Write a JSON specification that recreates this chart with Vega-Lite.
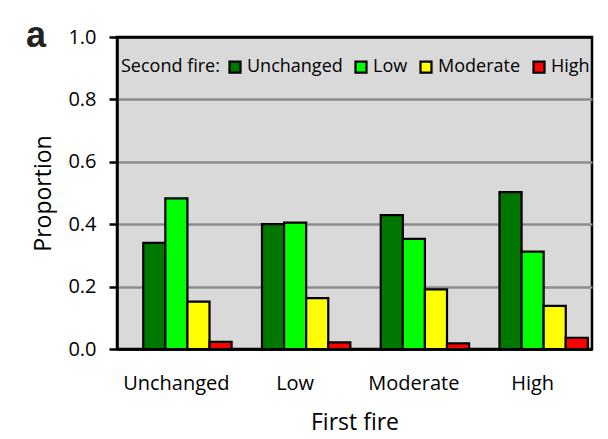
{
  "$schema": "https://vega.github.io/schema/vega-lite/v6.json",
  "autosize": "none",
  "padding": {"left": 117, "top": 37, "right": 16, "bottom": 90},
  "width": 475,
  "height": 312,
  "background": "white",
  "title": {
    "text": "a",
    "anchor": "start",
    "frame": "group",
    "font": "Liberation Sans",
    "fontSize": 36,
    "fontWeight": "bold",
    "color": "#222",
    "baseline": "alphabetic",
    "offset": -56,
    "dx": -91
  },
  "data": {
    "values": [
      {"first": "Unchanged", "second": "Unchanged", "value": 0.340},
      {"first": "Unchanged", "second": "Low", "value": 0.483},
      {"first": "Unchanged", "second": "Moderate", "value": 0.152},
      {"first": "Unchanged", "second": "High", "value": 0.023},
      {"first": "Low", "second": "Unchanged", "value": 0.400},
      {"first": "Low", "second": "Low", "value": 0.405},
      {"first": "Low", "second": "Moderate", "value": 0.163},
      {"first": "Low", "second": "High", "value": 0.021},
      {"first": "Moderate", "second": "Unchanged", "value": 0.429},
      {"first": "Moderate", "second": "Low", "value": 0.353},
      {"first": "Moderate", "second": "Moderate", "value": 0.191},
      {"first": "Moderate", "second": "High", "value": 0.018},
      {"first": "High", "second": "Unchanged", "value": 0.503},
      {"first": "High", "second": "Low", "value": 0.312},
      {"first": "High", "second": "Moderate", "value": 0.138},
      {"first": "High", "second": "High", "value": 0.036}
    ]
  },
  "mark": {"type": "bar", "stroke": "black", "strokeWidth": 2.2},
  "encoding": {
    "x": {
      "field": "first",
      "type": "nominal",
      "sort": ["Unchanged", "Low", "Moderate", "High"],
      "scale": {"paddingInner": 0.07, "paddingOuter": 0.035},
      "axis": {
        "title": "First fire",
        "labelAngle": 0,
        "ticks": false,
        "tickSize": 0,
        "labelPadding": 24,
        "labelFontSize": 20,
        "labelColor": "black",
        "titleFontSize": 23,
        "titleFontWeight": "normal",
        "titleColor": "black",
        "titlePadding": 18,
        "domainColor": "black",
        "domainWidth": 2.5
      }
    },
    "xOffset": {
      "field": "second",
      "type": "nominal",
      "scale": {"domain": ["_", "Unchanged", "Low", "Moderate", "High"], "paddingInner": 0, "paddingOuter": 0}
    },
    "y": {
      "field": "value",
      "type": "quantitative",
      "scale": {"domain": [0, 1], "nice": false},
      "axis": {
        "title": "Proportion",
        "values": [0, 0.2, 0.4, 0.6, 0.8, 1.0],
        "format": ".1f",
        "labelFontSize": 20,
        "labelColor": "black",
        "labelPadding": 13,
        "tickSize": 8,
        "tickWidth": 2.5,
        "tickColor": "black",
        "domainColor": "black",
        "domainWidth": 2.5,
        "grid": true,
        "gridColor": {"condition": {"test": "datum.value == 0 || datum.value == 1", "value": "black"}, "value": "#8c8c8c"},
        "gridWidth": 2.5,
        "titleFontSize": 23,
        "titleFontWeight": "normal",
        "titleColor": "black",
        "titlePadding": 12
      }
    },
    "color": {
      "field": "second",
      "type": "nominal",
      "scale": {"domain": ["Unchanged", "Low", "Moderate", "High"], "range": ["#007800", "#00ff00", "#ffff00", "#ff0000"]},
      "legend": {
        "title": "Second fire:",
        "orient": "none",
        "legendX": 4,
        "legendY": 21,
        "direction": "horizontal",
        "titleOrient": "left",
        "titlePadding": 6,
        "titleFontSize": 18,
        "titleFontWeight": "normal",
        "titleColor": "black",
        "labelFontSize": 18,
        "labelColor": "black",
        "labelOffset": 3,
        "columnPadding": 8,
        "symbolType": "square",
        "symbolSize": 121,
        "symbolStrokeColor": "black",
        "symbolStrokeWidth": 2.2,
        "padding": 0
      }
    }
  },
  "config": {
    "font": "Open Sans",
    "view": {"fill": "#d9d9d9", "stroke": "black", "strokeWidth": 2.5}
  }
}
